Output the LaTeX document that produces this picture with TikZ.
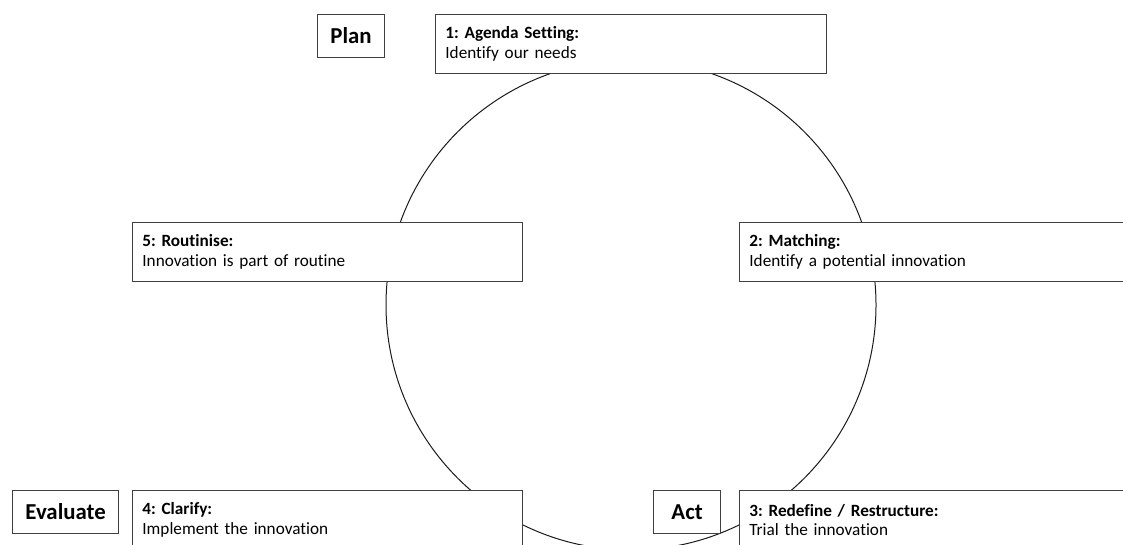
\documentclass[tikz,border=0pt]{standalone}
\usepackage{fontspec}
\setmainfont{Carlito}[Ligatures=NoCommon]
\usepackage{xcolor}
\usetikzlibrary{positioning}
\definecolor{boxLine}{HTML}{404040}
\definecolor{ringLine}{HTML}{1A1A1A}
\frenchspacing

\tikzset{
  stage/.style={draw=boxLine, line width=0.8pt, fill=white, anchor=north west,
    inner xsep=10pt, inner ysep=0pt, align=left, minimum height=59pt,
    font=\fontsize{17.2}{19.5}\selectfont},
  phase/.style={draw=boxLine, line width=0.8pt, fill=white, inner sep=0pt,
    minimum height=43pt, font=\fontsize{22.8}{24}\selectfont\bfseries},
  ring/.style={draw=ringLine, line width=1pt}
}

\begin{document}
\begin{tikzpicture}[x=1pt, y=-1pt]
    \useasboundingbox (0,0) rectangle (1123,545);
    \clip (0,0) rectangle (1123,545);
    % The cycle behind the stages
    \coordinate (hub) at (631,305);
    \draw[ring] (hub) circle[radius=245pt];
    % Five stages round the cycle
    \node[stage, text width=371pt] (agenda) at (435,14) {\textbf{1: Agenda Setting:}\\Identify our needs};
    \node[stage, text width=380pt] (matching) at (739,222) {\textbf{2: Matching:}\\Identify a potential innovation};
    \node[stage, text width=380pt] (redefine) at (739,490) {\textbf{3: Redefine / Restructure:}\\Trial the innovation};
    \node[stage, text width=370pt] (clarify) at (132,490) {\textbf{4: Clarify:}\\Implement the innovation};
    \node[stage, text width=370pt] (routinise) at (132,222) {\textbf{5: Routinise:}\\Innovation is part of routine};
    % Phase labels
    \node[phase, minimum width=67pt, left=50pt of agenda.north west, anchor=north east] (plan) {Plan};
    \node[phase, minimum width=106pt, left=13pt of clarify.north west, anchor=north east] (evaluate) {Evaluate};
    \node[phase, minimum width=67pt, left=18pt of redefine.north west, anchor=north east] (act) {Act};
\end{tikzpicture}
\end{document}
